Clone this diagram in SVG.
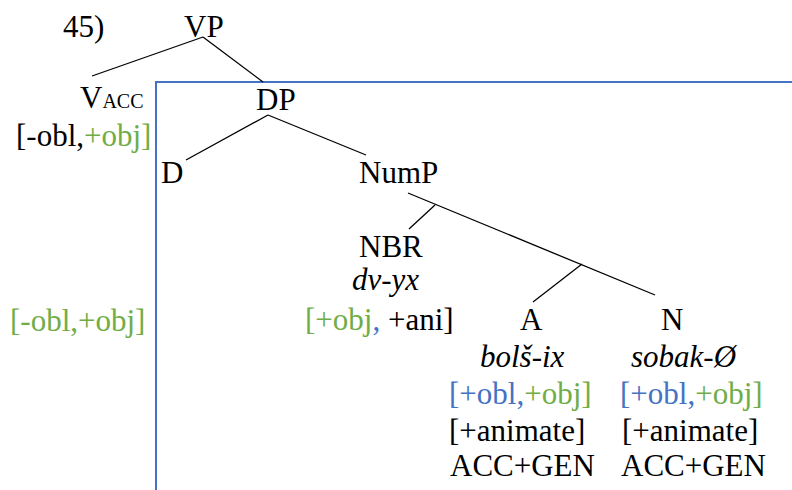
<svg xmlns="http://www.w3.org/2000/svg" width="792" height="490" viewBox="0 0 792 490">
<style>
.t{font-family:"Liberation Serif","Times New Roman",serif;font-size:31px;fill:#000}
.it{font-style:italic}
.g{fill:#70AD47}
.b{fill:#4472C4}
.sub{font-size:20px}
.edge{stroke:#000;stroke-width:1.3;fill:none}
.box{stroke:#4472C4;stroke-width:2;fill:none}
</style>
<rect width="792" height="490" fill="#fff"/>
<g id="box"><path class="box" d="M156,490 V82 H792"/></g>
<g id="connectors">
<line class="edge" x1="203" y1="37" x2="92" y2="76"/>
<line class="edge" x1="203" y1="37" x2="263" y2="82"/>
<line class="edge" x1="268" y1="115" x2="186" y2="160"/>
<line class="edge" x1="268" y1="115" x2="366" y2="155"/>
<line class="edge" x1="408" y1="193" x2="655" y2="295"/>
<line class="edge" x1="435" y1="205" x2="409" y2="229"/>
<line class="edge" x1="582" y1="264" x2="533" y2="302"/>
</g>
<g class="t">
<g id="label45"><text x="63" y="37">45)</text></g>
<g id="VP"><text x="184" y="37">VP</text></g>
<g id="V"><text x="80" y="108">V<tspan class="sub">ACC</tspan></text>
<text x="16" y="146">[-obl,<tspan class="g">+obj]</tspan></text></g>
<g id="DP"><text x="256" y="110">DP</text></g>
<g id="D"><text x="161" y="183">D</text></g>
<g id="NumP"><text x="359" y="183">NumP</text></g>
<g id="NBR"><text x="359" y="257">NBR</text>
<text class="it" x="352" y="290">dv-yx</text>
<text x="305" y="330"><tspan class="g">[+obj</tspan><tspan class="b">,</tspan> +ani]</text></g>
<g id="feat-left"><text class="g" x="10" y="331">[-obl,+obj]</text></g>
<g id="A"><text x="520" y="330">A</text>
<text class="it" x="480" y="367">bolš-ix</text>
<text x="449" y="404"><tspan class="b">[+obl,</tspan><tspan class="g">+obj]</tspan></text>
<text x="449" y="441">[+animate]</text>
<text x="450" y="476">ACC+GEN</text></g>
<g id="N"><text x="661" y="330">N</text>
<text class="it" x="631" y="367">sobak-Ø</text>
<text x="620" y="404"><tspan class="b">[+obl,</tspan><tspan class="g">+obj]</tspan></text>
<text x="622" y="441">[+animate]</text>
<text x="621" y="476">ACC+GEN</text></g>
</g>
</svg>
